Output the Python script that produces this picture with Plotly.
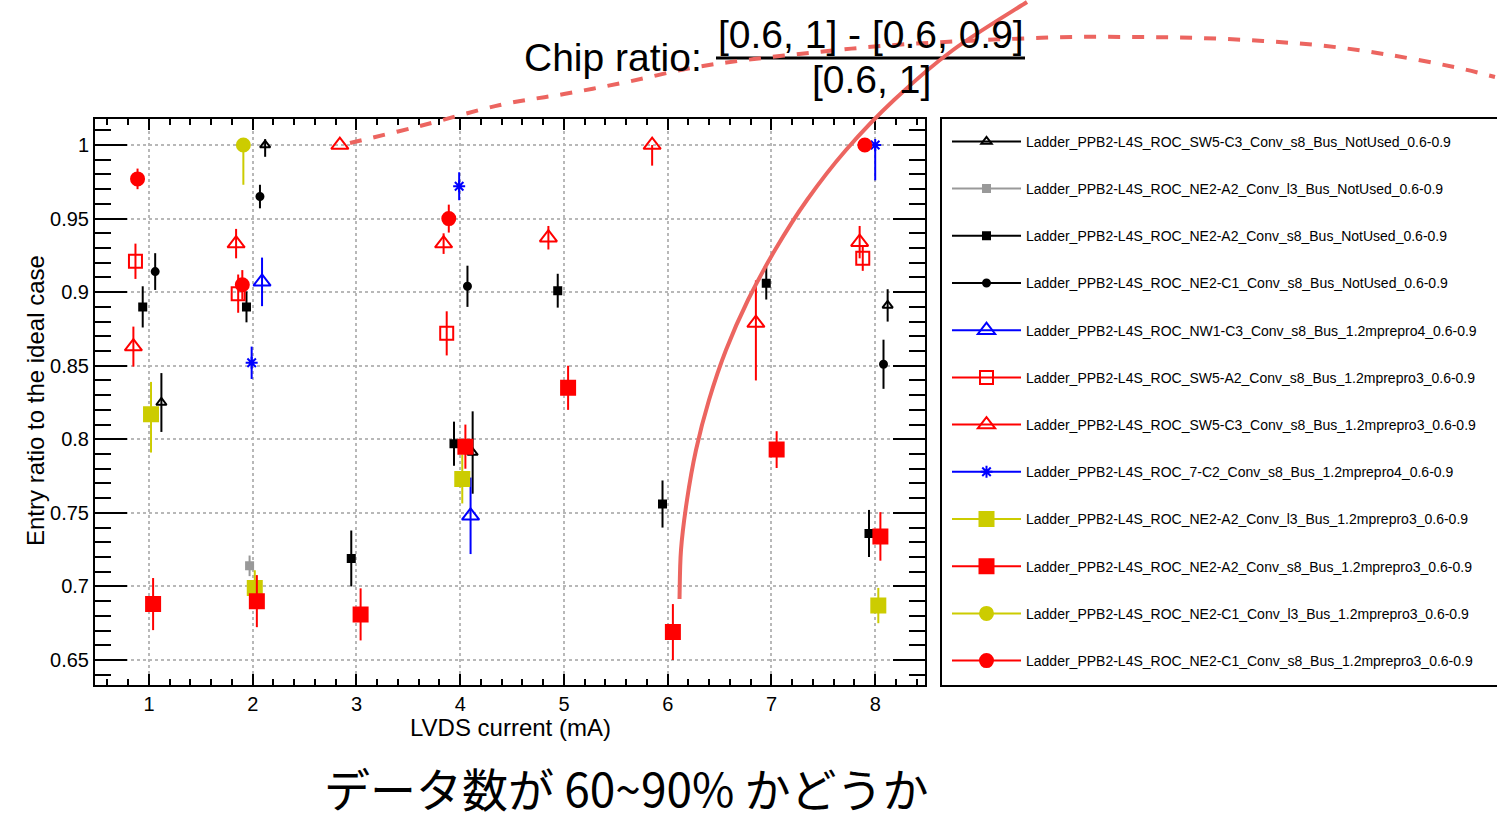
import plotly.graph_objects as go

# ---------------- data ----------------
X_TICKS = [1, 2, 3, 4, 5, 6, 7, 8]
X_TICK_LABELS = ["1", "2", "3", "4", "5", "6", "7", "8"]
Y_TICKS = [0.65, 0.7, 0.75, 0.8, 0.85, 0.9, 0.95, 1.0]
Y_TICK_LABELS = ["0.65", "0.7", "0.75", "0.8", "0.85", "0.9", "0.95", "1"]

NAMES = [
    "Ladder_PPB2-L4S_ROC_SW5-C3_Conv_s8_Bus_NotUsed_0.6-0.9",
    "Ladder_PPB2-L4S_ROC_NE2-A2_Conv_l3_Bus_NotUsed_0.6-0.9",
    "Ladder_PPB2-L4S_ROC_NE2-A2_Conv_s8_Bus_NotUsed_0.6-0.9",
    "Ladder_PPB2-L4S_ROC_NE2-C1_Conv_s8_Bus_NotUsed_0.6-0.9",
    "Ladder_PPB2-L4S_ROC_NW1-C3_Conv_s8_Bus_1.2mprepro4_0.6-0.9",
    "Ladder_PPB2-L4S_ROC_SW5-A2_Conv_s8_Bus_1.2mprepro3_0.6-0.9",
    "Ladder_PPB2-L4S_ROC_SW5-C3_Conv_s8_Bus_1.2mprepro3_0.6-0.9",
    "Ladder_PPB2-L4S_ROC_7-C2_Conv_s8_Bus_1.2mprepro4_0.6-0.9",
    "Ladder_PPB2-L4S_ROC_NE2-A2_Conv_l3_Bus_1.2mprepro3_0.6-0.9",
    "Ladder_PPB2-L4S_ROC_NE2-A2_Conv_s8_Bus_1.2mprepro3_0.6-0.9",
    "Ladder_PPB2-L4S_ROC_NE2-C1_Conv_l3_Bus_1.2mprepro3_0.6-0.9",
    "Ladder_PPB2-L4S_ROC_NE2-C1_Conv_s8_Bus_1.2mprepro3_0.6-0.9",
]

s1_x = [1.12, 2.12, 4.12, 8.12]
s1_y = [0.825, 1.0, 0.791, 0.891]
s1_ep = [0.020, 0.004, 0.028, 0.011]
s1_em = [0.020, 0.008, 0.028, 0.011]

s2_x = [1.97]
s2_y = [0.714]
s2_ep = [0.007]
s2_em = [0.007]

s3_x = [0.94, 1.94, 2.95, 3.94, 4.94, 5.95, 6.95, 7.94]
s3_y = [0.890, 0.890, 0.719, 0.797, 0.901, 0.756, 0.906, 0.736]
s3_ep = [0.014, 0.0105, 0.019, 0.015, 0.0115, 0.016, 0.011, 0.016]
s3_em = [0.014, 0.0105, 0.019, 0.015, 0.0115, 0.016, 0.011, 0.016]

s4_x = [1.06, 2.07, 4.07, 8.08]
s4_y = [0.914, 0.965, 0.904, 0.851]
s4_ep = [0.0125, 0.008, 0.014, 0.0167]
s4_em = [0.0125, 0.008, 0.014, 0.0167]

s5_x = [2.09, 4.10]
s5_y = [0.907, 0.748]
s5_ep = [0.0165, 0.026]
s5_em = [0.0165, 0.026]

s6_x = [0.87, 1.86, 3.87, 7.88]
s6_y = [0.921, 0.899, 0.872, 0.923]
s6_ep = [0.012, 0.013, 0.015, 0.0085]
s6_em = [0.012, 0.013, 0.015, 0.0085]

s7_x = [0.85, 1.84, 2.84, 3.84, 4.85, 5.85, 6.85, 7.85]
s7_y = [0.863, 0.933, 1.0, 0.933, 0.937, 1.0, 0.879, 0.934]
s7_ep = [0.0136, 0.010, 0.0, 0.007, 0.008, 0.0, 0.029, 0.011]
s7_em = [0.0136, 0.010, 0.0, 0.007, 0.008, 0.014, 0.039, 0.011]

s8_x = [1.99, 3.99, 8.00]
s8_y = [0.852, 0.972, 1.0]
s8_ep = [0.011, 0.0095, 0.0]
s8_em = [0.011, 0.0095, 0.024]

s9_x = [1.02, 2.02, 4.02, 8.03]
s9_y = [0.817, 0.699, 0.773, 0.687]
s9_ep = [0.022, 0.012, 0.0166, 0.012]
s9_em = [0.026, 0.012, 0.0166, 0.012]

s10_x = [1.04, 2.04, 3.04, 4.05, 5.04, 6.05, 7.05, 8.05]
s10_y = [0.688, 0.690, 0.681, 0.795, 0.835, 0.669, 0.793, 0.734]
s10_ep = [0.0177, 0.0177, 0.0177, 0.015, 0.015, 0.019, 0.0125, 0.0165]
s10_em = [0.0177, 0.0177, 0.0177, 0.015, 0.015, 0.019, 0.0125, 0.0165]

s11_x = [1.91]
s11_y = [1.0]
s11_ep = [0.0]
s11_em = [0.027]

s12_x = [0.89, 1.90, 3.89, 7.90]
s12_y = [0.977, 0.905, 0.950, 1.0]
s12_ep = [0.007, 0.010, 0.0095, 0.0]
s12_em = [0.007, 0.010, 0.0095, 0.004]

SERIES_X = [s1_x, s2_x, s3_x, s4_x, s5_x, s6_x, s7_x, s8_x, s9_x, s10_x, s11_x, s12_x]
SERIES_Y = [s1_y, s2_y, s3_y, s4_y, s5_y, s6_y, s7_y, s8_y, s9_y, s10_y, s11_y, s12_y]
SERIES_EP = [s1_ep, s2_ep, s3_ep, s4_ep, s5_ep, s6_ep, s7_ep, s8_ep, s9_ep, s10_ep, s11_ep, s12_ep]
SERIES_EM = [s1_em, s2_em, s3_em, s4_em, s5_em, s6_em, s7_em, s8_em, s9_em, s10_em, s11_em, s12_em]

TITLE_LEFT = "Chip ratio:"
TITLE_NUM = "[0.6, 1] - [0.6, 0.9]"
TITLE_DEN = "[0.6, 1]"
X_TITLE = "LVDS current (mA)"
Y_TITLE = "Entry ratio to the ideal case"
BOTTOM_TEXT = "データ数が 60~90% かどうか"

# ---------------- styles ----------------
BLACK, GRAY, BLUE, RED, YEL = "#000000", "#999999", "#0000ff", "#ff0000", "#cccc00"
STYLES = [
    dict(color=BLACK, symbol="triangle-up-open", size=9),
    dict(color=GRAY, symbol="square", size=7),
    dict(color=BLACK, symbol="square", size=7),
    dict(color=BLACK, symbol="circle", size=7),
    dict(color=BLUE, symbol="triangle-up-open", size=15),
    dict(color=RED, symbol="square-open", size=13),
    dict(color=RED, symbol="triangle-up-open", size=15),
    dict(color=BLUE, symbol="asterisk-open", size=10),
    dict(color=YEL, symbol="square", size=14),
    dict(color=RED, symbol="square", size=14),
    dict(color=YEL, symbol="circle", size=13),
    dict(color=RED, symbol="circle", size=13),
]

W, H = 1497, 821
L, R, T, B = 95, 925, 119, 685
FONT = "Liberation Sans, Arial, Helvetica, sans-serif"


def pxx(px):
    return (px - L) / (R - L)


def pxy(py):
    return (B - py) / (B - T)


def smooth_path(pts):
    """Catmull-Rom -> cubic Bezier path in paper coordinates (input in pixels)."""
    P = [(pxx(a), pxy(b)) for a, b in pts]
    d = "M %.5f,%.5f" % P[0]
    for i in range(len(P) - 1):
        p0 = P[i - 1] if i > 0 else P[i]
        p1, p2 = P[i], P[i + 1]
        p3 = P[i + 2] if i + 2 < len(P) else P[i + 1]
        c1 = (p1[0] + (p2[0] - p0[0]) / 6, p1[1] + (p2[1] - p0[1]) / 6)
        c2 = (p2[0] - (p3[0] - p1[0]) / 6, p2[1] - (p3[1] - p1[1]) / 6)
        d += " C %.5f,%.5f %.5f,%.5f %.5f,%.5f" % (c1 + c2 + p2)
    return d


# hand-drawn overlay strokes on the slide (pixel positions)
DASHED_STROKE = [(350, 143), (420, 126), (500, 105), (564, 94), (627, 82), (691, 68),
                 (754, 59), (818, 52), (881, 46), (945, 42), (1009, 39), (1072, 37),
                 (1136, 37), (1199, 38), (1263, 41), (1326, 46), (1390, 55),
                 (1454, 67), (1495, 77)]
SOLID_STROKE = [(679.5, 599), (681, 550), (687, 500), (696, 450), (709, 400),
                (726, 350), (748, 300), (775, 250), (807, 200), (846, 150),
                (894, 100), (953, 50), (1027, 2)]

fig = go.Figure()

for i in range(12):
    st = STYLES[i]
    fig.add_trace(go.Scatter(
        x=SERIES_X[i], y=SERIES_Y[i], mode="markers", showlegend=False,
        marker=dict(symbol=st["symbol"], size=st["size"], color=st["color"],
                    line=dict(color=st["color"], width=2)),
        error_y=dict(type="data", symmetric=False, array=SERIES_EP[i],
                     arrayminus=SERIES_EM[i], color=st["color"], thickness=2, width=0),
    ))

for i in range(12):
    st = STYLES[i]
    fig.add_trace(go.Scatter(
        x=[None], y=[None], mode="lines+markers", name=NAMES[i], legendgroup="g%d" % i,
        line=dict(color=st["color"], width=2),
        marker=dict(symbol=st["symbol"], size=st["size"], color=st["color"],
                    line=dict(color=st["color"], width=2)),
    ))

axis_common = dict(
    showline=True, linecolor="black", linewidth=2, mirror="allticks",
    ticks="inside", tickcolor="black", tickwidth=2,
    showgrid=True, gridcolor="#b8b8b8", gridwidth=2, griddash="dot",
    zeroline=False, tickfont=dict(family=FONT, size=20, color="black"),
)

fig.update_xaxes(
    range=[0.48, 8.48], tickvals=X_TICKS, ticktext=X_TICK_LABELS, ticklen=11,
    minor=dict(ticks="inside", ticklen=6, dtick=0.2, tick0=0, tickwidth=2,
               tickcolor="black", showgrid=False),
    **axis_common,
)
fig.update_yaxes(
    range=[0.633, 1.0177], tickvals=Y_TICKS, ticktext=Y_TICK_LABELS, ticklen=32,
    minor=dict(ticks="inside", ticklen=16, dtick=0.01, tick0=0, tickwidth=2,
               tickcolor="black", showgrid=False),
    **axis_common,
)

frame_line = dict(color="black", width=2)
shapes = [
    # legend frame: top, left, bottom (it runs off the right edge of the slide)
    dict(type="line", xref="paper", yref="paper", x0=pxx(940), x1=pxx(1497),
         y0=pxy(118), y1=pxy(118), line=frame_line, layer="below"),
    dict(type="line", xref="paper", yref="paper", x0=pxx(941), x1=pxx(941),
         y0=pxy(117), y1=pxy(687), line=frame_line, layer="below"),
    dict(type="line", xref="paper", yref="paper", x0=pxx(940), x1=pxx(1497),
         y0=pxy(686), y1=pxy(686), line=frame_line, layer="below"),
    dict(type="line", xref="paper", yref="paper", x0=pxx(716), x1=pxx(1025),
         y0=pxy(58), y1=pxy(58), line=dict(color="black", width=3)),
    dict(type="path", xref="paper", yref="paper", path=smooth_path(DASHED_STROKE),
         line=dict(color="#ec6560", width=4, dash="dash"), layer="above"),
    dict(type="path", xref="paper", yref="paper", path=smooth_path(SOLID_STROKE),
         line=dict(color="#ec6560", width=4), layer="above"),
]

annotations = [
    dict(text=TITLE_LEFT, xref="paper", yref="paper", x=pxx(704), y=pxy(57),
         xanchor="right", yanchor="middle", showarrow=False,
         font=dict(family=FONT, size=39, color="black")),
    dict(text=TITLE_NUM, xref="paper", yref="paper", x=pxx(871), y=pxy(34),
         xanchor="center", yanchor="middle", showarrow=False,
         font=dict(family=FONT, size=39, color="black")),
    dict(text=TITLE_DEN, xref="paper", yref="paper", x=pxx(871), y=pxy(80),
         xanchor="center", yanchor="middle", showarrow=False,
         font=dict(family=FONT, size=39, color="black")),
    dict(text=X_TITLE, xref="paper", yref="paper", x=pxx(510), y=pxy(727),
         xanchor="center", yanchor="middle", showarrow=False,
         font=dict(family=FONT, size=24, color="black")),
    dict(text=Y_TITLE, xref="paper", yref="paper", x=pxx(35), y=pxy(401),
         xanchor="center", yanchor="middle", showarrow=False, textangle=-90,
         font=dict(family=FONT, size=24, color="black")),
    dict(text=BOTTOM_TEXT, xref="paper", yref="paper", x=pxx(626), y=pxy(787),
         xanchor="center", yanchor="middle", showarrow=False,
         font=dict(family="Noto Sans CJK JP", size=46, color="black")),
]

fig.update_layout(
    width=W, height=H, autosize=False,
    margin=dict(l=L, r=W - R, t=T, b=H - B, pad=0),
    paper_bgcolor="white", plot_bgcolor="white",
    shapes=shapes, annotations=annotations,
    legend=dict(x=pxx(940), y=pxy(118), xanchor="left", yanchor="top",
                bordercolor="black", borderwidth=0, bgcolor="rgba(0,0,0,0)",
                font=dict(family=FONT, size=14, color="black"),
                title=dict(text=" ", font=dict(size=6)),
                traceorder="grouped", tracegroupgap=26, itemsizing="trace",
                itemwidth=69, indentation=7, maxheight=800),
)

fig.write_html(
    "out.html", config={"displayModeBar": False},
    post_script=("document.body.style.margin='0px';"
                 "document.body.style.overflow='hidden';"
                 "document.documentElement.style.overflow='hidden';"),
)
